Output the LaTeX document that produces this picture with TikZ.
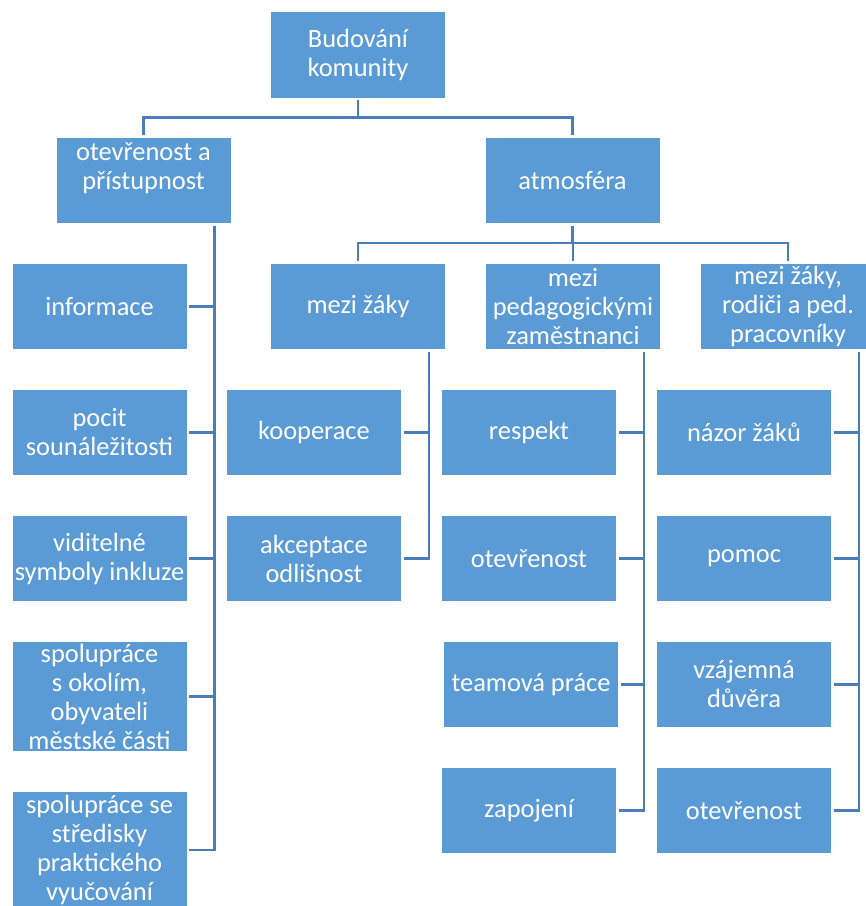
\documentclass[tikz,border=0pt]{standalone}
\usepackage{fontspec}
\setmainfont{Carlito}
\usepackage{tikz}
\usetikzlibrary{positioning,calc}
\definecolor{boxblue}{HTML}{5B9BD5}
\definecolor{lineblue}{HTML}{4A7EBB}
\tikzset{
  box/.style={fill=boxblue, text=white, align=center, minimum width=130.5pt, minimum height=63.75pt, inner sep=1pt, outer sep=0pt, font=\fontsize{19.8}{21.75}\selectfont},
  link/.style={draw=lineblue, line width=2pt, shorten <=2pt, shorten >=2pt}
}
\begin{document}
\begin{tikzpicture}[x=0.75pt, y=-0.75pt, node distance=30.75pt]
  \useasboundingbox (0,0) rectangle (865,906);

  % top levels
  \node[box] (root) at (358,55) {Budování\\komunity};
  \node[box] (open) at (143.5,180.5) {otevřenost a\\přístupnost\\\mbox{}};
  \node[box] (atmo) at (572.5,180.5) {atmosféra};
  \node[box] (zaci) at (358,306.5) {mezi žáky};
  \node[box] (ped) at (573,306.5) {mezi\\pedagogickými\\zaměstnanci};
  \node[box] (rod) at (788,306.5) {mezi žáky,\\rodiči a ped.\\pracovníky};

  % otevrenost a pristupnost
  \node[box, below=of open, xshift=-33pt] (info) {informace};
  \node[box, below=of info] (pocit) {pocit\\sounáležitosti};
  \node[box, below=of pocit] (vid) {viditelné\\symboly inkluze};
  \node[box, minimum height=81.75pt, below=of vid] (okoli) {spolupráce\\s okolím,\\obyvateli\\městské části};
  \node[box, minimum height=87pt, below=of okoli] (stred) {spolupráce se\\středisky\\praktického\\vyučování};

  % mezi zaky
  \node[box, below=of zaci, xshift=-33pt] (koop) {kooperace};
  \node[box, below=of koop] (akcept) {akceptace\\odlišnost};

  % mezi pedagogy
  \node[box, below=of ped, xshift=-33pt] (resp) {respekt};
  \node[box, below=of resp] (otev) {otevřenost};
  \node[box, below=of otev, xshift=1.5pt] (team) {teamová práce};
  \node[box, below=of team, xshift=-1.5pt] (zapoj) {zapojení};

  % mezi zaky, rodici a ped.
  \node[box, below=of rod, xshift=-33pt] (nazor) {názor žáků};
  \node[box, below=of nazor] (pomoc) {pomoc};
  \node[box, below=of pomoc] (duvera) {vzájemná\\důvěra};
  \node[box, below=of duvera] (otevr) {otevřenost};

  % connectors
  \foreach \c in {open,atmo}
    \draw[link] (root.south) -- ++(0,20) -| (\c.north);
  \foreach \c in {zaci,ped,rod}
    \draw[link] (atmo.south) -- ++(0,20) -| (\c.north);
  \foreach \c in {info,pocit,vid,okoli,stred}
    \draw[link] ([xshift=-12pt]open.south east) |- (\c.east);
  \foreach \c in {koop,akcept}
    \draw[link] ([xshift=-12pt]zaci.south east) |- (\c.east);
  \foreach \c in {resp,otev,team,zapoj}
    \draw[link] ([xshift=-12pt]ped.south east) |- (\c.east);
  \foreach \c in {nazor,pomoc,duvera,otevr}
    \draw[link] ([xshift=-12pt]rod.south east) |- (\c.east);
\end{tikzpicture}
\end{document}
